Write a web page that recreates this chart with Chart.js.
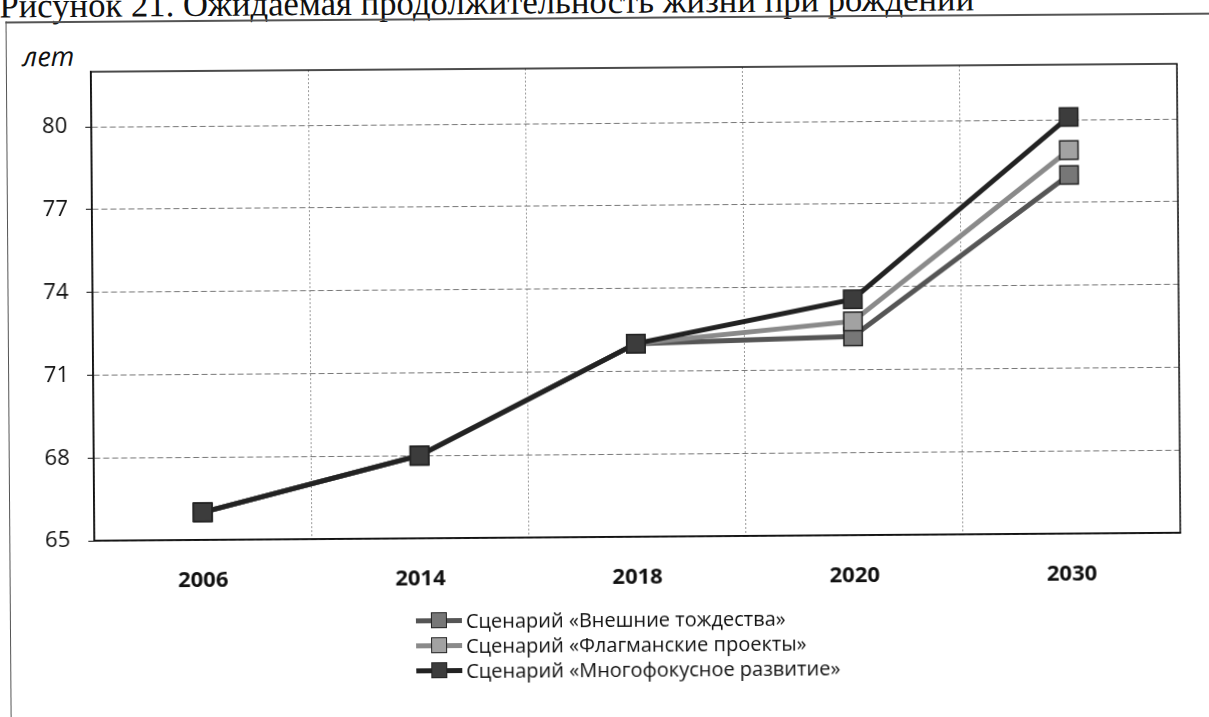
<!DOCTYPE html>
<html>
<head>
<meta charset="utf-8">
<script src="https://cdn.jsdelivr.net/npm/chart.js@4.4.1/dist/chart.umd.min.js"></script>
<style>
    html, body { margin: 0; padding: 0; background: #fff; overflow: hidden; }
    #page { position: absolute; left: 0; top: 0; width: 1209px; height: 717px; transform: rotate(-0.42deg); transform-origin: 604px 358px; }
    #title { position: absolute; left: 2px; top: -15px; font-family: "Liberation Serif", "Times New Roman", serif; font-size: 34px; line-height: 34px; white-space: nowrap; color: #111; }
    #frame { position: absolute; left: 8px; top: 17px; width: 1260px; height: 760px; border-left: 1.5px solid #555; border-top: 2px solid #555; }
    #unit { position: absolute; left: 25px; top: 38px; font: italic 27px "Open Sans", sans-serif; line-height: 27px; color: #111; }
    #chartBox { position: absolute; left: 0; top: 0; width: 1209px; height: 717px; }
    #legend { position: absolute; left: 414px; top: 607px; font: 20px "Open Sans", sans-serif; line-height: 24px; color: #111; }
    .lg-row { display: flex; align-items: center; height: 25px; }
    .lg-mark { position: relative; width: 46px; height: 5px; margin-right: 4px; }
    .lg-mark span { position: absolute; left: 15px; top: -6px; width: 16px; height: 16px; box-sizing: border-box; border: 1.5px solid #222; }
</style>
</head>
<body>
<div id="page">
    <div id="title">Рисунок 21. Ожидаемая продолжительность жизни при рождении</div>
    <div id="frame"></div>
    <div id="unit">лет</div>
    <div id="chartBox"><canvas id="lifeChart" width="1209" height="717"></canvas></div>
    <div id="legend"></div>
</div>
<script>
const years = ['2006', '2014', '2018', '2020', '2030'];
const externalIdentities = [66.0, 68.0, 72.0, 72.2, 78.0];
const flagshipProjects = [66.0, 68.0, 72.0, 72.75, 78.9];
const multifocusDevelopment = [66.0, 68.0, 72.0, 73.55, 80.1];
const yTicks = [65, 68, 71, 74, 77, 80];
const seriesNames = [
    'Сценарий «Внешние тождества»',
    'Сценарий «Флагманские проекты»',
    'Сценарий «Многофокусное развитие»'
];

// stretch the caption to the scanned width
(function fitTitle() {
    const el = document.getElementById('title');
    const ctx = document.createElement('canvas').getContext('2d');
    ctx.font = '34px "Liberation Serif"';
    const w = ctx.measureText(el.textContent).width;
    el.style.fontSize = (34 * 975 / w).toFixed(2) + 'px';
})();

function makeSeries(label, data, line, fill, order) {
    return {
        label: label,
        data: data,
        order: order,
        borderColor: line,
        borderWidth: 5,
        tension: 0,
        pointStyle: 'rect',
        pointRadius: 13,
        pointHoverRadius: 13,
        pointBackgroundColor: fill,
        pointBorderColor: '#222',
        pointBorderWidth: 1.5,
        clip: false
    };
}

const plotFrame = {
    id: 'plotFrame',
    beforeDatasetsDraw(chart) {
        const a = chart.chartArea;
        const ctx = chart.ctx;
        ctx.save();
        ctx.strokeStyle = '#111';
        ctx.lineWidth = 1.5;
        ctx.strokeRect(a.left, a.top, a.right - a.left, a.bottom - a.top);
        ctx.restore();
    }
};

const htmlLegend = {
    id: 'htmlLegend',
    afterUpdate(chart) {
        const box = document.getElementById('legend');
        box.innerHTML = '';
        chart.data.datasets.forEach(ds => {
            const row = document.createElement('div');
            row.className = 'lg-row';
            row.innerHTML = `<div class="lg-mark" style="background:${ds.borderColor}"><span style="background:${ds.pointBackgroundColor}"></span></div><div>${ds.label}</div>`;
            box.appendChild(row);
        });
    }
};

new Chart(document.getElementById('lifeChart'), {
    type: 'line',
    data: {
        labels: years,
        datasets: [
            makeSeries(seriesNames[0], externalIdentities, '#555', '#777', 3),
            makeSeries(seriesNames[1], flagshipProjects, '#8a8a8a', '#a2a2a2', 2),
            makeSeries(seriesNames[2], multifocusDevelopment, '#222', '#3c3c3c', 1)
        ]
    },
    options: {
        responsive: false,
        animation: false,
        devicePixelRatio: 1,
        layout: { padding: { top: 68, right: 30, left: 0, bottom: 0 } },
        plugins: {
            legend: { display: false },
            tooltip: { enabled: false }
        },
        scales: {
            x: {
                offset: true,
                grid: { offset: true, color: '#999', lineWidth: 1, drawTicks: false },
                border: { display: true, color: '#111', width: 1.5, dash: [2, 2] },
                ticks: { color: '#111', padding: 28, font: { family: 'Open Sans', size: 22, weight: 'bold' } },
                afterFit(scale) { scale.height = 180; }
            },
            y: {
                min: 65,
                max: 82,
                afterBuildTicks(scale) { scale.ticks = yTicks.map(v => ({ value: v })); },
                grid: { color: '#777', lineWidth: 1, tickLength: 6, tickColor: '#111' },
                border: { display: true, color: '#111', width: 1.5, dash: [6, 3] },
                ticks: { color: '#111', padding: 18, font: { family: 'Open Sans', size: 22 } },
                afterFit(scale) { scale.width = 93; }
            }
        }
    },
    plugins: [plotFrame, htmlLegend]
});
</script>
</body>
</html>
